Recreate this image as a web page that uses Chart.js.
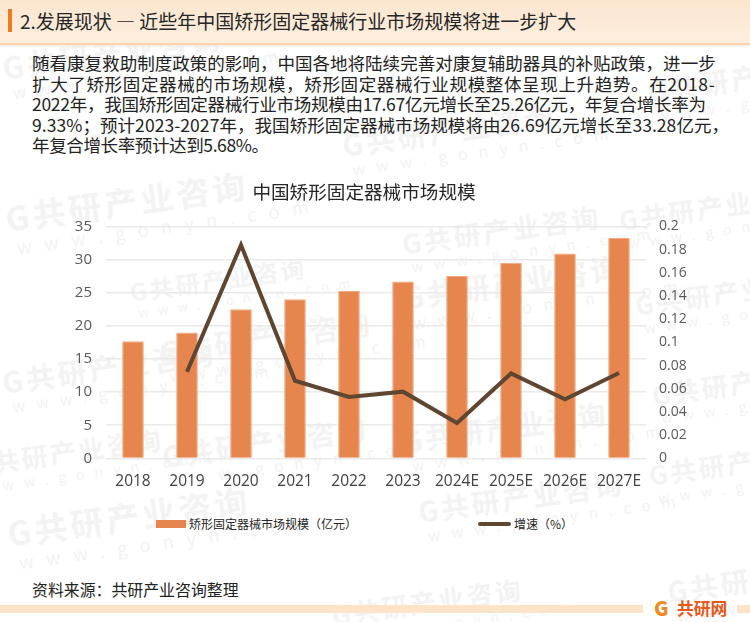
<!DOCTYPE html>
<html lang="zh-CN">
<head>
  <meta charset="UTF-8">
  <title>中国矫形固定器械市场规模</title>
  <script src="https://cdn.jsdelivr.net/npm/chart.js"></script>
  <style>
    html, body { margin: 0; padding: 0; background: #fff; }
    body { width: 750px; height: 622px; position: relative; overflow: hidden; font-family: "Noto Sans CJK SC", "Open Sans", sans-serif; color: #222; }
    .abs { position: absolute; white-space: nowrap; }
    #header { left: 0; top: 0; width: 750px; height: 43px; background: linear-gradient(#fbe6d0, #fdeedd); border-bottom: 2px solid #f9d4ae; box-shadow: 0 1px 2px #f3e3d3; }
    #headerBar { left: 8px; top: 9px; width: 4px; height: 23px; background: #ee7b22; }
    #headerText { left: 20px; top: 7px; font-size: 19px; line-height: 28px; color: #262626; }
    #intro { left: 32px; top: 53px; font-size: 17.55px; line-height: 20.5px; color: #222; }
    #intro div { height: 20.5px; }
    #chartWrap { left: 0; top: 170px; width: 728px; height: 327px; }
    #source { left: 32px; top: 579px; font-size: 15.9px; line-height: 22px; color: #222; }
    #footBand1 { left: 0; top: 605px; width: 643px; height: 8px; background: #fde4c8; }
    #footBand2 { left: 737px; top: 605px; width: 13px; height: 8px; background: #fde4c8; }
    #logoG { left: 654px; top: 596px; font-size: 20px; line-height: 24px; font-weight: 900; color: #f08a24; }
    #logoText { left: 677px; top: 596px; font-size: 16.8px; line-height: 24px; font-weight: 700; color: #e8581a; }
    .legendText { font-size: 12px; line-height: 16px; color: #262626; top: 516px; }
    .wm { position: absolute; transform: rotate(-8deg); transform-origin: left top; white-space: nowrap; color: #f3f3f3; font-weight: 700; line-height: 1.15; letter-spacing: .1em; }
    .wm span { display: block; font-size: .55em; line-height: 1.2; font-weight: 400; letter-spacing: .7em; color: #f2f2f2; margin-left: .4em; }
  </style>
</head>
<body>
  <div id="marks"></div>
  <div class="abs" id="header"></div>
  <div class="abs" id="headerBar"></div>
  <div class="abs" id="headerText">2.发展现状 — 近些年中国矫形固定器械行业市场规模将进一步扩大</div>
  <div class="abs" id="intro">
    <div>随看康复救助制度政策的影响，中国各地将陆续完善对康复辅助器具的补贴政策，进一步</div>
    <div style="letter-spacing:.62px">扩大了矫形固定器械的市场规模，矫形固定器械行业规模整体呈现上升趋势。在2018-</div>
    <div style="letter-spacing:-.3px">2022年，我国矫形固定器械行业市场规模由17.67亿元增长至25.26亿元，年复合增长率为</div>
    <div style="letter-spacing:.04px">9.33%；预计2023-2027年，我国矫形固定器械市场规模将由26.69亿元增长至33.28亿元，</div>
    <div style="letter-spacing:-.4px">年复合增长率预计达到5.68%。</div>
  </div>
  <div class="abs" id="chartWrap"><canvas id="marketChart" width="728" height="327"></canvas></div>
  <div class="abs" style="left:156px;top:520px;width:30px;height:8px;background:#e6864e"></div>
  <div class="abs legendText" style="left:189px">矫形固定器械市场规模（亿元）</div>
  <div class="abs" style="left:478px;top:522px;width:33px;height:4px;border-radius:2px;background:#5f4631"></div>
  <div class="abs legendText" style="left:514px">增速（%）</div>
  <div class="abs" id="source">资料来源：共研产业咨询整理</div>
  <div class="abs" id="footBand1"></div>
  <div class="abs" id="footBand2"></div>
  <div class="abs" id="logoG">G</div>
  <div class="abs" id="logoText">共研网</div>

  <script>
    const years = ["2018", "2019", "2020", "2021", "2022", "2023", "2024E", "2025E", "2026E", "2027E"];
    const marketSize = [17.67, 19, 22.5, 24, 25.26, 26.69, 27.5, 29.5, 30.9, 33.28];
    const growthRate = [null, 0.0747, 0.184, 0.0669, 0.0529, 0.0575, 0.0305, 0.0732, 0.0509, 0.0736];
    // x, y, font size of each watermark stamp
    const watermarkSpots = [
      [0, 50, 30], [340, 128, 29], [645, 75, 28], [3, 200, 33], [128, 278, 24], [400, 228, 27],
      [617, 205, 26], [0, 365, 29], [157, 335, 29], [400, 280, 30], [633, 290, 26], [650, 380, 26],
      [160, 440, 28], [400, 425, 28], [647, 460, 26], [5, 515, 33], [416, 495, 28],
      [330, 600, 26], [665, 575, 28], [-30, 450, 26]
    ];

    // watermark sits behind everything, canvas is transparent
    const marks = document.getElementById("marks");
    watermarkSpots.forEach(spot => {
      const el = document.createElement("div");
      el.className = "wm";
      el.style.left = spot[0] + "px";
      el.style.top = spot[1] + "px";
      el.style.fontSize = spot[2] + "px";
      el.innerHTML = "G共研产业咨询<span>www.gonyn.com</span>";
      marks.appendChild(el);
    });

    new Chart(document.getElementById("marketChart"), {
      data: {
        labels: years,
        datasets: [
          {
            type: "line",
            label: "增速（%）",
            data: growthRate,
            yAxisID: "yRate",
            borderColor: "#5f4631",
            borderWidth: 4,
            pointRadius: 0,
            tension: 0,
            spanGaps: false
          },
          {
            type: "bar",
            label: "矫形固定器械市场规模（亿元）",
            data: marketSize,
            yAxisID: "ySize",
            backgroundColor: "#e6864e",
            borderColor: "#f0a77c",
            borderWidth: 1,
            categoryPercentage: 1,
            barPercentage: 0.4
          }
        ]
      },
      options: {
        responsive: false,
        animation: false,
        plugins: {
          legend: { display: false },
          tooltip: { enabled: false },
          title: {
            display: true,
            text: "中国矫形固定器械市场规模",
            color: "#262626",
            font: { family: "Noto Sans CJK SC", size: 18.6, weight: "normal" },
            padding: { top: 11, bottom: 23 }
          }
        },
        scales: {
          x: {
            grid: { display: false },
            border: { display: false },
            ticks: { color: "#404040", font: { family: "Open Sans", size: 15.5 }, padding: 6, maxRotation: 0, autoSkip: false }
          },
          ySize: {
            position: "left",
            min: 0,
            max: 35,
            afterFit: scale => { scale.width = 106; },
            grid: { color: "#e9e9e9", lineWidth: 1.5, drawTicks: false },
            border: { display: false },
            ticks: { stepSize: 5, color: "#595959", padding: 14, font: { family: "Open Sans", size: 15 } }
          },
          yRate: {
            position: "right",
            min: 0,
            max: 0.2,
            afterFit: scale => { scale.width = 82; },
            grid: { display: false },
            border: { display: false },
            ticks: { stepSize: 0.02, color: "#595959", padding: 5, font: { family: "Open Sans", size: 14 }, callback: v => +v.toFixed(2) }
          }
        }
      }
    });
  </script>
</body>
</html>
